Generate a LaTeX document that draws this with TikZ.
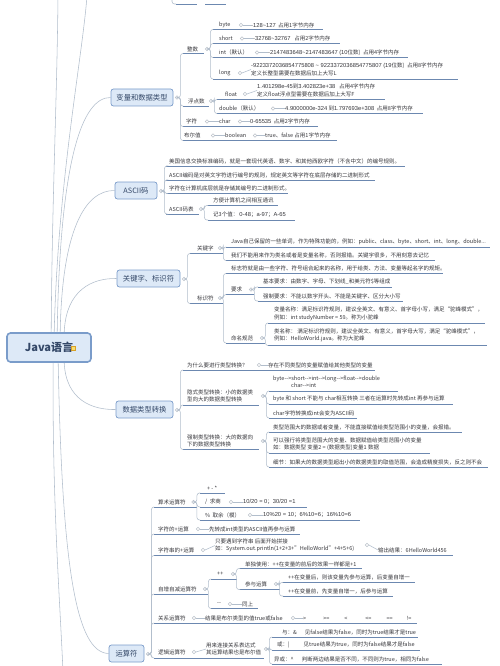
\documentclass[tikz,border=0pt]{standalone}
\usepackage{fontspec}
\setmainfont{Noto Sans CJK SC}
\newfontfamily\numfont{Liberation Sans}[Scale=1.05]
\usepackage{tikz}

\definecolor{ulcol}{RGB}{108,136,176}
\definecolor{cncol}{RGB}{178,190,204}
\definecolor{knobcol}{RGB}{188,194,202}
\definecolor{txtcol}{RGB}{55,55,60}
\definecolor{boxfill}{RGB}{221,233,247}
\definecolor{boxline}{RGB}{122,156,202}
\definecolor{boxtxt}{RGB}{52,72,104}
\definecolor{iconfill}{RGB}{250,222,110}
\definecolor{iconline}{RGB}{214,160,40}

\newcommand{\darr}{-\kern0pt->}
\newcommand{\numtxt}[1]{{\numfont #1}}

\tikzset{
  leaf/.style={anchor=west, inner sep=0pt, text=txtcol, align=left, font=\fontsize{5.5}{7.5}\selectfont},
  knob/.style={circle, draw=knobcol, fill=white, line width=0.5pt, inner sep=0pt, minimum size=3.4pt},
  uline/.style={draw=ulcol, line width=0.8pt},
  conn/.style={draw=cncol, line width=0.55pt},
  fork/.style={conn, rounded corners=2.5pt},
  topicbox/.style={draw=boxline, fill=boxfill, rounded corners=2.5pt, line width=0.7pt, text=boxtxt, font=\fontsize{7.3}{8}\selectfont, minimum height=17pt, inner sep=0pt},
  rootbox/.style={draw=boxline, fill=boxfill, rounded corners=3.5pt, line width=1.6pt, text=boxtxt, font=\fontsize{11}{12}\selectfont\bfseries, minimum width=84pt, minimum height=29pt, inner sep=0pt}
}

\begin{document}
\begin{tikzpicture}[x=1pt, y=-1pt]
\useasboundingbox (0,0) rectangle (500,666);
\fill[white] (0,0) rectangle (500,666);
\clip (0,0) rectangle (500,666);

% root
\node[rootbox] (java) at (49,347.5) {Java语言\hspace{9pt}};
\node[draw=iconline, fill=iconfill, line width=0.5pt, minimum size=4.5pt, inner sep=0pt] (jicon) at (73,348) {};

\node[topicbox, minimum width=62pt] (bl) at (142,97.5) {变量和数据类型};
\node[topicbox, minimum width=42pt] (as) at (136,190.5) {ASCII码};
\node[topicbox, minimum width=63pt] (gj) at (148.5,278.5) {关键字、标识符};
\node[topicbox, minimum width=57pt] (zh) at (144.5,409.5) {数据类型转换};
\node[topicbox, minimum width=35pt] (yf) at (126.5,653.5) {运算符};

\coordinate (upA) at (58,-4);
\coordinate (upB) at (87,-4);
\coordinate (dnA) at (63,672);

% main branches
\draw[conn] ([xshift=45pt]java.north west) .. controls (52,200) and (57,100) .. (upA);
\draw[conn] ([xshift=48pt]java.north west) .. controls (58,180) and (82,60) .. (upB);
\draw[conn] ([xshift=51pt]java.north west) .. controls (60,160) and (82,97) .. (bl.west);
\draw[conn] ([xshift=54pt]java.north west) .. controls (62,230) and (85,190) .. (as.west);
\draw[conn] ([xshift=58pt]java.north west) .. controls (66,290) and (92,278) .. (gj.west);
\draw[conn] ([xshift=58pt]java.south west) .. controls (66,400) and (92,410) .. (zh.west);
\draw[conn] ([xshift=52pt]java.south west) .. controls (62,560) and (75,653) .. (yf.west);
\draw[conn] ([xshift=47pt]java.south west) .. controls (52,500) and (60,600) .. (dnA);

% cut off at the top
\coordinate (topf) at (172,-6);
\draw[uline] (176,4) coordinate (topu) -- (197,4);
\draw[uline] (205,4) -- (226,4);
\draw[fork] (topf) |- (topu);

% variables
\node[knob] (blk) at (177,97.5) {};
\node[leaf] (zs) at (187,49) {整数};
\node[knob] (zsk) at (207,49) {};
\draw[uline] (183,53.5) coordinate (zsu) -- (204,53.5);
\node[leaf] (bt) at (219,25) {byte};
\node[knob] (btk) at (241,25) {};
\node[leaf] (btv) at (251,25) {\numtxt{-128\textasciitilde127}\ \ 占用1字节内存};
\draw[uline] (213,29.5) coordinate (btu) -- (323,29.5);
\node[leaf] (sh) at (219,38.5) {short};
\node[knob] (shk) at (242,38.5) {};
\node[leaf] (shv) at (253,38.5) {\numtxt{-32768\textasciitilde32767}\ \ \ 占用2字节内存};
\draw[uline] (213,43.5) coordinate (shu) -- (340,43.5);
\node[leaf] (in) at (219,52.5) {int（默认）};
\node[knob] (ink) at (257,52.5) {};
\node[leaf] (inv) at (268,52.5) {\numtxt{-2147483648\textasciitilde2147483647 (10}位数)\ \ 占用4字节内存};
\draw[uline] (213,57.5) coordinate (inu) -- (408,57.5);
\node[leaf] (lg) at (219,73) {long};
\node[knob] (lgk) at (240,73) {};
\node[leaf] (lgv) at (251,69.5) {\numtxt{-9223372036854775808 \textasciitilde\ 9223372036854775807 (19}位数)\ \ 占用8字节内存\\定义长整型需要在数据后加上大写L};
\draw[uline] (213,79) coordinate (lgu) -- (458,79);
\node[leaf] (fd) at (188,101) {浮点数};
\node[knob] (fdk) at (211,101) {};
\draw[uline] (183,106) coordinate (fdu) -- (209,106);
\node[leaf] (fl) at (225,94) {float};
\node[knob] (flk) at (245,94) {};
\node[leaf] (flv) at (257,90.5) {\numtxt{1.401298e-45}到\numtxt{3.402823e+38}\ \ \ 占用4字节内存\\定义float浮点型需要在数据后加上大写F};
\draw[uline] (217,99.5) coordinate (flu) -- (385,99.5);
\node[leaf] (db) at (219,108.5) {double（默认）};
\node[knob] (dbk) at (273,108.5) {};
\node[leaf] (dbv) at (285,108.5) {\numtxt{4.9000000e-324} 到\numtxt{1.797693e+308}\ \ 占用8字节内存};
\draw[uline] (217,113.5) coordinate (dbu) -- (423,113.5);
\node[leaf] (cr) at (186,121.5) {字符};
\node[knob] (crk) at (207,121.5) {};
\node[leaf] (ch) at (219,121.5) {char};
\node[knob] (chk) at (240,121.5) {};
\node[leaf] (chv) at (250,121.5) {\numtxt{0-65535}\ \ 占用2字节内存};
\draw[uline] (183,126.5) coordinate (cru) -- (318,126.5);
\node[leaf] (bo) at (184,135.5) {布尔值};
\node[knob] (bok) at (213,135.5) {};
\node[leaf] (bn) at (225,135.5) {boolean};
\node[knob] (bnk) at (255,135.5) {};
\node[leaf] (bnv) at (265,135.5) {true、false 占用1字节内存};
\draw[uline] (183,140.5) coordinate (bou) -- (337,140.5);
\foreach \c in {zsu,fdu,cru,bou} \draw[fork] (blk.east) -- ++(1.5,0) |- (\c);
\foreach \c in {btu,shu,inu,lgu} \draw[fork] (zsk.east) -- ++(1.5,0) |- (\c);
\foreach \c in {flu,dbu} \draw[fork] (fdk.east) -- ++(1.5,0) |- (\c);
\draw[conn] (crk) -- (ch);
\draw[conn] (bok) -- (bn);
\foreach \k/\v in {btk/btv,shk/shv,ink/inv,lgk/lgv,flk/flv,dbk/dbv,chk/chv,bnk/bnv} \draw[conn] (\k.east) -- (\v.west);

% ASCII
\node[knob] (ask) at (161,191) {};
\node[leaf] (as1) at (169,161) {美国信息交换标准编码，就是一套现代英语、数字、和其他西欧字符（不含中文）的编号规则。};
\draw[uline] (166,166) coordinate (as1u) -- (405,166);
\node[leaf] (as2) at (169,175) {ASCII编码是对英文字符进行编号的规则，规定英文等字符在底层存储的二进制形式};
\draw[uline] (166,180) coordinate (as2u) -- (375,180);
\node[leaf] (as3) at (169,188.5) {字符在计算机底层就是存储其编号的二进制形式。};
\draw[uline] (166,193.5) coordinate (as3u) -- (288,193.5);
\node[leaf] (as4) at (169,209) {ASCII码表};
\node[knob] (as4k) at (201,209) {};
\draw[uline] (166,214) coordinate (as4u) -- (199,214);
\node[leaf] (as5) at (213,200.5) {方便计算机之间相互通讯};
\draw[uline] (208,205.5) coordinate (as5u) -- (278,205.5);
\node[leaf] (as6) at (213,215) {记3个值：\ \numtxt{0-48}；\numtxt{a-97}；\numtxt{A-65}};
\draw[uline] (208,220) coordinate (as6u) -- (295,220);
\foreach \c in {as1u,as2u,as3u,as4u} \draw[fork] (ask.east) -- ++(1.5,0) |- (\c);
\foreach \c in {as5u,as6u} \draw[fork] (as4k.east) -- ++(1.5,0) |- (\c);

% keywords
\node[knob] (gjk) at (184,279) {};
\node[leaf] (gz) at (197,248) {关键字};
\node[knob] (gzk) at (220,248) {};
\draw[uline] (190,253.5) coordinate (gzu) -- (223,253.5);
\node[leaf] (gz1) at (231,242) {Java自己保留的一些单词，作为特殊功能的，例如：public、class、byte、short、int、long、double...};
\draw[uline] (226,247) coordinate (gz1u) -- (490,247);
\node[leaf] (gz2) at (231,255.5) {我们不能用来作为类名或者是变量名称，否则报错。关键字很多，不用刻意去记忆};
\draw[uline] (226,260.5) coordinate (gz2u) -- (435,260.5);
\node[leaf] (bs) at (197,298) {标识符};
\node[knob] (bsk) at (220,298) {};
\draw[uline] (190,303.5) coordinate (bsu) -- (223,303.5);
\node[leaf] (bs1) at (231,268.5) {标志符就是由一些字符、符号组合起来的名称，用于给类、方法、变量等起名字的规矩。};
\draw[uline] (226,273.5) coordinate (bs1u) -- (443,273.5);
\node[leaf] (yq) at (231,289.5) {要求};
\node[knob] (yqk) at (251,289.5) {};
\draw[uline] (226,294.5) coordinate (yqu) -- (254,294.5);
\node[leaf] (yq1) at (263,282) {基本要求：由数字、字母、下划线\_和美元符\$等组成};
\draw[uline] (258,287) coordinate (yq1u) -- (392,287);
\node[leaf] (yq2) at (263,296) {强制要求：不能以数字开头、不能是关键字、区分大小写};
\draw[uline] (258,301) coordinate (yq2u) -- (403,301);
\node[leaf] (mm) at (231,338) {命名规范};
\node[knob] (mmk) at (262,338) {};
\draw[uline] (226,343) coordinate (mmu) -- (265,343);
\node[leaf] (mm1) at (274,314) {变量名称：满足标识符规则，建议全英文、有意义、首字母小写，满足“驼峰模式”，\\例如：int studyNumber = 59。称为小驼峰};
\draw[uline] (268,323) coordinate (mm1u) -- (485,323);
\node[leaf] (mm2) at (274,335.5) {类名称：\ 满足标识符规则，建议全英文、有意义，首字母大写，满足“驼峰模式”，\\例如：HelloWorld.java。称为大驼峰};
\draw[uline] (268,345.5) coordinate (mm2u) -- (487,345.5);
\foreach \c in {gzu,bsu} \draw[fork] (gjk.east) -- ++(1.5,0) |- (\c);
\foreach \c in {gz1u,gz2u} \draw[fork] (gzk.east) -- ++(1.5,0) |- (\c);
\foreach \c in {bs1u,yqu,mmu} \draw[fork] (bsk.east) -- ++(1.5,0) |- (\c);
\foreach \c in {yq1u,yq2u} \draw[fork] (yqk.east) -- ++(1.5,0) |- (\c);
\foreach \c in {mm1u,mm2u} \draw[fork] (mmk.east) -- ++(1.5,0) |- (\c);

% type conversion
\node[knob] (zhk) at (177,410) {};
\node[leaf] (w1) at (187,365) {为什么要进行类型转换？};
\node[knob] (w1k) at (259,365) {};
\node[leaf] (w1v) at (268,365) {存在不同类型的变量赋值给其他类型的变量};
\draw[uline] (183,370) coordinate (w1u) -- (375,370);
\node[leaf] (yx) at (187,396) {隐式类型转换：小的数据类\\型向大的数据类型转换};
\node[knob] (yxk) at (263,396) {};
\draw[uline] (183,405) coordinate (yxu) -- (259,405);
\node[leaf] (yx1) at (273,382) {byte\darr short\darr int\darr long\darr float\darr double\\\hspace{18pt}char\darr int};
\draw[uline] (269,391) coordinate (yx1u) -- (398,391);
\node[leaf] (yx2) at (273,399) {byte 和 short 不能与 char相互转换 三者在运算时先转成int 再参与运算};
\draw[uline] (269,404) coordinate (yx2u) -- (453,404);
\node[leaf] (yx3) at (273,413) {char字符转换成int会变为ASCII码};
\draw[uline] (269,418) coordinate (yx3u) -- (357,418);
\node[leaf] (qz) at (187,441) {强制类型转换：大的数据向\\下的数据类型转换};
\node[knob] (qzk) at (263,441) {};
\draw[uline] (183,449.5) coordinate (qzu) -- (259,449.5);
\node[leaf] (qz1) at (273,427) {类型范围大的数据或者变量，不能直接赋值给类型范围小的变量，会报错。};
\draw[uline] (269,432) coordinate (qz1u) -- (462,432);
\node[leaf] (qz2) at (273,444) {可以强行将类型范围大的变量、数据赋值给类型范围小的变量\\如：数据类型 变量2 = (数据类型)变量1 数据};
\draw[uline] (269,453) coordinate (qz2u) -- (430,453);
\node[leaf] (qz3) at (273,462) {细节：如果大的数据类型超出小的数据类型的取值范围，会造成精度损失，反之则不会};
\draw[uline] (269,467) coordinate (qz3u) -- (488,467);
\foreach \c in {w1u,yxu,qzu} \draw[fork] (zhk.east) -- ++(1.5,0) |- (\c);
\foreach \c in {yx1u,yx2u,yx3u} \draw[fork] (yxk.east) -- ++(1.5,0) |- (\c);
\foreach \c in {qz1u,qz2u,qz3u} \draw[fork] (qzk.east) -- ++(1.5,0) |- (\c);
\draw[conn] (w1k.east) -- (w1v.west);

% operators
\node[knob] (yfk) at (148,654) {};
\node[leaf] (ss) at (158,502) {算术运算符};
\node[knob] (ssk) at (193.5,502) {};
\draw[uline] (154,507) coordinate (ssu) -- (197,507);
\node[leaf] (ss1) at (207,488) {+ - *};
\draw[uline] (200,493) coordinate (ss1u) -- (225,493);
\node[leaf] (ss2) at (205,502) {/\ \ 求商};
\node[knob] (ss2k) at (231,502) {};
\node[leaf] (ss2v) at (243,502) {\numtxt{10/20 = 0}；\numtxt{30/20 =1}};
\draw[uline] (200,507) coordinate (ss2u) -- (307,507);
\node[leaf] (ss3) at (205,515) {\%\ \ 取余（模）};
\node[knob] (ss3k) at (250,515) {};
\node[leaf] (ss3v) at (263,515) {\numtxt{10\%20 = 10}；\numtxt{6\%10=6}；\numtxt{16\%10=6}};
\draw[uline] (200,520) coordinate (ss3u) -- (360,520);
\node[leaf] (zf) at (158,529) {字符的+运算};
\node[knob] (zfk) at (198,529) {};
\node[leaf] (zfv) at (209,529) {先转成int类型的ASCII值再参与运算};
\draw[uline] (154,534) coordinate (zfu) -- (300,534);
\node[leaf] (zc) at (158,550) {字符串的+运算};
\node[knob] (zck) at (203,550) {};
\node[leaf] (zcv) at (215,545.5) {只要遇到字符串 后面开始拼接\\如：System.out.println(1+2+3+"HelloWorld"+4+5+6)};
\node[knob] (zcvk) at (367,545) {};
\node[leaf] (zco) at (378,550) {输出结果：6HelloWorld456};
\draw[uline] (154,555.5) coordinate (zcu) -- (453,555.5);
\node[leaf] (zz) at (158,589) {自增自减运算符};
\node[knob] (zzk) at (205,589) {};
\draw[uline] (154,594) coordinate (zzu) -- (208,594);
\node[leaf] (pp) at (217,574) {++};
\node[knob] (ppk) at (233,574) {};
\draw[uline] (211,579) coordinate (ppu) -- (237,579);
\node[leaf] (pp1) at (245,564) {单独使用：++在变量的前后的效果一样都是+1};
\draw[uline] (240,568.5) coordinate (pp1u) -- (362,568.5);
\node[leaf] (cy) at (245,584) {参与运算};
\node[knob] (cyk) at (276,584) {};
\draw[uline] (240,589.5) coordinate (cyu) -- (280,589.5);
\node[leaf] (cy1) at (288,577.5) {++在变量后，则该变量先参与运算，后变量自增一};
\draw[uline] (283,582.5) coordinate (cy1u) -- (415,582.5);
\node[leaf] (cy2) at (288,591) {++在变量前，先变量自增一，后参与运算};
\draw[uline] (283,596) coordinate (cy2u) -- (393,596);
\node[leaf] (jj) at (217,604) {-\kern0pt-};
\node[knob] (jjk) at (230,604) {};
\node[leaf] (jjv) at (242,604) {同上};
\draw[uline] (211,608.5) coordinate (jju) -- (258,608.5);
\node[leaf] (gx) at (158,618) {关系运算符};
\node[knob] (gxk) at (194,618) {};
\node[leaf] (gxv) at (205,618) {结果是布尔类型的值true或false};
\node[knob] (gxvk) at (293,618) {};
\node[leaf] (gxo) at (303,618) {>\hspace{17pt}>=\hspace{15pt}<\hspace{18pt}<=\hspace{15pt}==\hspace{14pt}!=};
\draw[uline] (154,623) coordinate (gxu) -- (417,623);
\node[leaf] (lj) at (158,652) {逻辑运算符};
\node[knob] (ljk) at (194,652) {};
\node[leaf] (ljv) at (206,649) {用来连接关系表达式\\其运算结果也是布尔值};
\node[knob] (ljvk) at (266,649) {};
\draw[uline] (154,658) coordinate (lju) -- (264,658);
\node[leaf] (lj1) at (282,632) {与：\&\hspace{8pt}见false结果为false，同时为true结果才是true};
\draw[uline] (272,637) coordinate (lj1u) -- (418,637);
\node[leaf] (lj2) at (277,645) {或：|\hspace{14pt}见true结果为true，同时为false结果才是false};
\draw[uline] (272,650) coordinate (lj2u) -- (420,650);
\node[leaf] (lj3) at (274,659) {异或：\textasciicircum\hspace{8pt}判断两边结果是否不同，不同则为true，相同为false};
\draw[uline] (272,664) coordinate (lj3u) -- (442,664);
\foreach \c in {ssu,zfu,zcu,zzu,gxu,lju} \draw[fork] (yfk.east) -- ++(1.5,0) |- (\c);
\foreach \c in {ss1u,ss2u,ss3u} \draw[fork] (ssk.east) -- ++(1.5,0) |- (\c);
\foreach \c in {ppu,jju} \draw[fork] (zzk.east) -- ++(1.5,0) |- (\c);
\foreach \c in {pp1u,cyu} \draw[fork] (ppk.east) -- ++(1.5,0) |- (\c);
\foreach \c in {cy1u,cy2u} \draw[fork] (cyk.east) -- ++(1.5,0) |- (\c);
\foreach \c in {lj1u,lj2u,lj3u} \draw[fork] (ljvk.east) -- ++(1.5,0) |- (\c);
\foreach \k/\v in {ss2k/ss2v,ss3k/ss3v,zfk/zfv,zck/zcv,zcvk/zco,jjk/jjv,gxk/gxv,gxvk/gxo,ljk/ljv} \draw[conn] (\k.east) -- (\v.west);
\end{tikzpicture}
\end{document}
